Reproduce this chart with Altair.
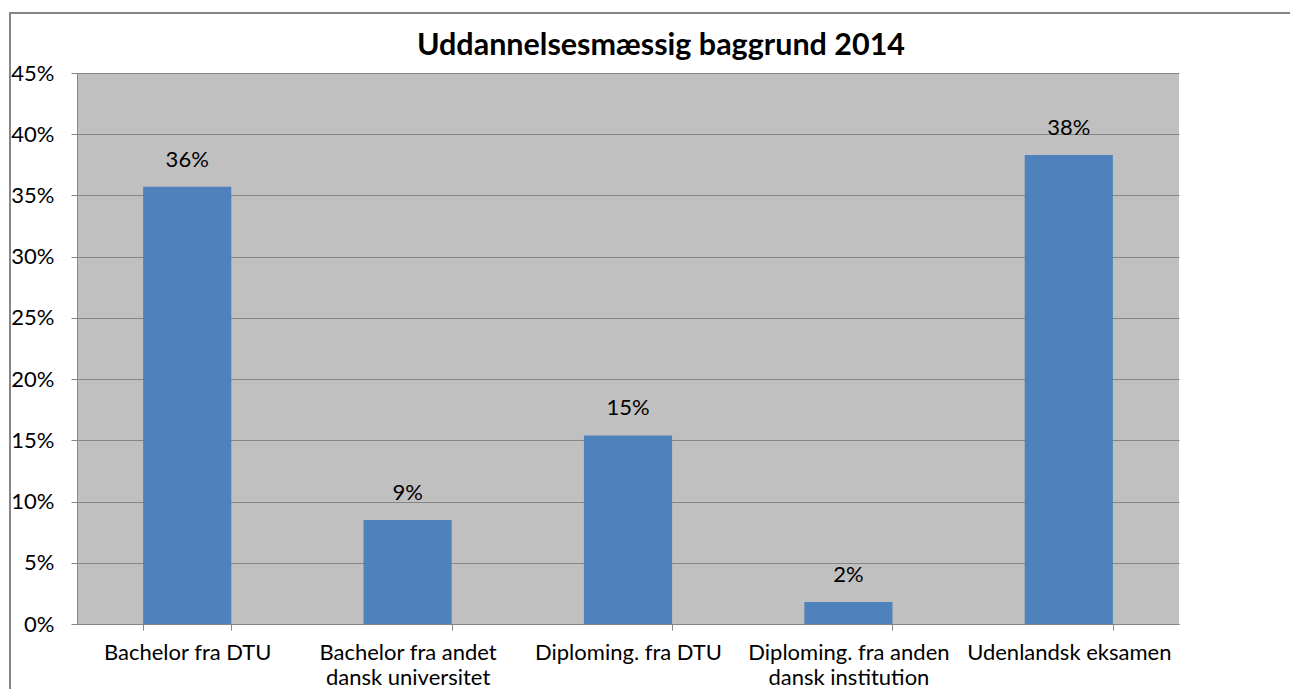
import altair as alt
import pandas as pd

categories = [
    "Bachelor fra DTU",
    "Bachelor fra andet\ndansk universitet",
    "Diploming. fra DTU",
    "Diploming. fra anden\ndansk institution",
    "Udenlandsk eksamen",
]
values = [0.357, 0.085, 0.154, 0.018, 0.383]
y_ticks = [0, 0.05, 0.10, 0.15, 0.20, 0.25, 0.30, 0.35, 0.40, 0.45]
title_text = "Uddannelsesmæssig baggrund 2014"

df = pd.DataFrame({"cat": categories, "val": values})

FONT = "Lato"
GRAY = "#868686"
W, H = 1102, 551

x = alt.X(
    "cat:N",
    sort=categories,
    scale=alt.Scale(paddingInner=0.6, paddingOuter=0.3),
    axis=alt.Axis(
        title=None,
        labelAngle=0,
        labelFont=FONT,
        labelFontSize=22,
        labelColor="black",
        labelLineHeight=25,
        labelPadding=12,
        labelExpr="split(datum.label, '\\n')",
        tickBand="extent",
        tickSize=6,
        tickColor=GRAY,
        domainColor=GRAY,
        grid=False,
        labelLimit=300,
    ),
)
y = alt.Y(
    "val:Q",
    scale=alt.Scale(domain=[0, 0.45], nice=False),
    axis=alt.Axis(
        title=None,
        values=y_ticks,
        format=".0%",
        labelFont=FONT,
        labelFontSize=22,
        labelColor="black",
        labelPadding=17,
        tickSize=6,
        tickColor=GRAY,
        domainColor=GRAY,
        gridColor=GRAY,
        gridWidth=1,
    ),
)

bars = alt.Chart(df).mark_bar(color="#4F81BD").encode(x=x, y=y)
labels = alt.Chart(df).mark_text(
    font=FONT, fontSize=22, color="black", baseline="alphabetic", dy=-20
).encode(x=x, y=y, text=alt.Text("val:Q", format=".0%"))

title = alt.Chart(pd.DataFrame({"t": [title_text]})).mark_text(
    font=FONT, fontSize=30.5, fontWeight="bold", color="black",
    align="center", baseline="alphabetic",
).encode(x=alt.value(584), y=alt.value(-18), text="t:N")

border = alt.Chart(df).mark_rect(
    fill="transparent", stroke=GRAY, strokeWidth=1.5, clip=False
).encode(
    x=alt.value(-67), x2=alt.value(1240), y=alt.value(-60), y2=alt.value(700)
)

chart = (
    alt.layer(bars, labels, title, border)
    .properties(
        width=W,
        height=H,
        background="white",
        autosize=alt.AutoSizeParams(type="none"),
        padding={"left": 69, "top": 65, "right": 111, "bottom": 65},
    )
    .configure_view(fill="#C0C0C0", strokeWidth=0)
)

chart.save("out.html", embed_options={"renderer": "svg", "actions": False})
